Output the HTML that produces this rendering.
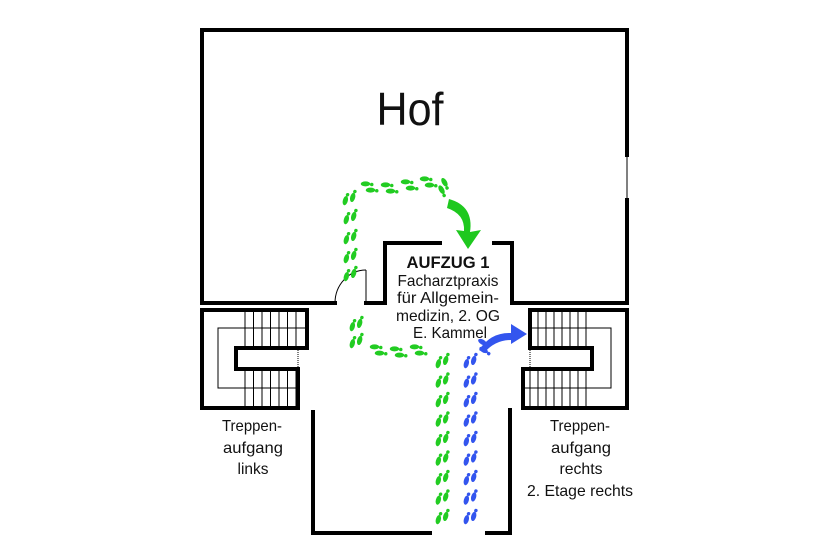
<!DOCTYPE html>
<html><head><meta charset="utf-8"><style>
html,body{margin:0;padding:0;background:#fff}
svg{display:block}
text{font-family:"Liberation Sans Narrow","Liberation Sans",sans-serif;fill:#111}
</style></head><body>
<svg width="835" height="560" viewBox="0 0 835 560" xmlns="http://www.w3.org/2000/svg">
<g fill="none" stroke="#000" stroke-width="4" stroke-linecap="square">
<polyline points="335,303 202,303 202,30 627,30 627,155"/>
<polyline points="627,200 627,303 512,303 512,243 494,243"/>
<polyline points="440,243 385,243 385,303 366,303"/>
<polyline points="313,412 313,533 430,533"/>
<polyline points="487,533 510,533 510,410"/>
<polygon points="202,310 307,310 307,348 236,348 236,369 298,369 298,408 202,408"/>
<polygon points="530,310 627,310 627,408 523,408 523,369 592,369 592,348 530,348"/>
</g>
<g fill="none" stroke="#000" stroke-width="1">
<line x1="627" y1="155" x2="627" y2="200"/>
<line x1="366" y1="270" x2="366" y2="303"/>
<path d="M366,270 A31,33 0 0 0 335,303"/>
<polyline points="236,328 218,328 218,388 298,388"/>
<line x1="236" y1="328" x2="307" y2="328"/>
<line x1="298" y1="348" x2="298" y2="369" stroke-dasharray="1,1"/>
<polyline points="592,328 611,328 611,388 523,388"/>
<line x1="530" y1="328" x2="592" y2="328"/>
<line x1="530" y1="348" x2="530" y2="369" stroke-dasharray="1,1"/>
</g>
<g stroke="#000" stroke-width="1" id="steps"></g>
<g id="feet"></g>
<path d="M449,199 Q474,206 470,232 L481,230 L468,249 L456,230 L464,231 Q465,214 447,208 Z" fill="#1ec81e"/>
<path d="M479,350 Q491,332 511,333 L511,324 L527,334 L511,344 L511,340 Q495,340 484,353 Z" fill="#3355ee"/>
<text x="410" y="125" font-size="46" text-anchor="middle" textLength="67" lengthAdjust="spacingAndGlyphs">Hof</text>
<g text-anchor="middle">
<text x="448" y="268" font-size="17" font-weight="bold" textLength="83" lengthAdjust="spacingAndGlyphs">AUFZUG 1</text>
<text x="448" y="286" font-size="16" textLength="101" lengthAdjust="spacingAndGlyphs">Facharztpraxis</text>
<text x="448" y="303" font-size="16" textLength="102" lengthAdjust="spacingAndGlyphs">für Allgemein-</text>
<text x="448" y="321" font-size="16" textLength="104" lengthAdjust="spacingAndGlyphs">medizin, 2. OG</text>
<text x="450" y="338" font-size="16" textLength="74" lengthAdjust="spacingAndGlyphs">E. Kammel</text>
<text x="252" y="431" font-size="16" textLength="60" lengthAdjust="spacingAndGlyphs">Treppen-</text>
<text x="253" y="453" font-size="16" textLength="60" lengthAdjust="spacingAndGlyphs">aufgang</text>
<text x="253" y="474" font-size="16" textLength="31" lengthAdjust="spacingAndGlyphs">links</text>
<text x="580" y="431" font-size="16" textLength="60" lengthAdjust="spacingAndGlyphs">Treppen-</text>
<text x="581" y="453" font-size="16" textLength="60" lengthAdjust="spacingAndGlyphs">aufgang</text>
<text x="581" y="474" font-size="16" textLength="43" lengthAdjust="spacingAndGlyphs">rechts</text>
<text x="580" y="496" font-size="16" textLength="106" lengthAdjust="spacingAndGlyphs">2. Etage rechts</text>
</g>
<script>
var ns="http://www.w3.org/2000/svg";
var st=document.getElementById("steps");
function ln(x1,y1,x2,y2){var l=document.createElementNS(ns,"line");l.setAttribute("x1",x1);l.setAttribute("y1",y1);l.setAttribute("x2",x2);l.setAttribute("y2",y2);st.appendChild(l);}
for(var i=0;i<7;i++){var x=245+i*8.5;ln(x,310,x,348);ln(x,369,x,408);}
for(var i=0;i<7;i++){var x=538+i*8;ln(x,310,x,348);}
for(var i=0;i<8;i++){var x=530+i*8;ln(x,369,x,408);}
var fe=document.getElementById("feet");
function step(x,y,ang,c){
 var g=document.createElementNS(ns,"g");
 g.setAttribute("transform","translate("+x+","+y+") rotate("+ang+") scale(1.25)");
 g.setAttribute("fill",c);
 var parts=[[-2.5,2,2,3.8],[2.5,-2,2,3.8]];
 parts.forEach(function(p){var e=document.createElementNS(ns,"ellipse");e.setAttribute("cx",p[0]);e.setAttribute("cy",p[1]);e.setAttribute("rx",p[2]);e.setAttribute("ry",p[3]);g.appendChild(e);
  var t=document.createElementNS(ns,"circle");t.setAttribute("cx",p[0]+0.5);t.setAttribute("cy",p[1]-5);t.setAttribute("r",1.4);g.appendChild(t);});
 fe.appendChild(g);
}
var G="#22cc22",B="#3355ee";
[[350,275],[350,257],[350,238],[350,218],[349,199]].forEach(function(p){step(p[0],p[1],15,G);});
[[368,187],[388,188],[408,185],[427,182]].forEach(function(p){step(p[0],p[1],90,G);});
step(443,186,150,G);
[[356,325],[356,342]].forEach(function(p){step(p[0],p[1],15,G);});
[[377,350],[397,352],[417,350]].forEach(function(p){step(p[0],p[1],90,G);});
for(var i=0;i<9;i++){step(442,362+i*19.5,15,G);}
for(var i=0;i<9;i++){step(470,362+i*19.5,15,B);}
step(483,346,120,B);
</script>
</svg>
</body></html>
